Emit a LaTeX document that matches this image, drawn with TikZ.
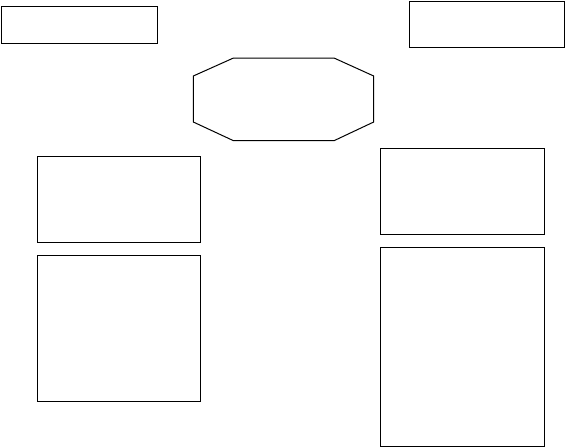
\documentclass[tikz,border=0pt]{standalone}
\usepackage{tikz}
\tikzset{
  panel/.style={draw, line width=1pt, rectangle, inner sep=0pt, outer sep=0pt}
}
\begin{document}
\begin{tikzpicture}[x=1pt, y=-1pt]
    \useasboundingbox (0,0) rectangle (567,447) ;
    \node (titleleft) [panel, minimum width=155.5pt, minimum height=36.7pt] at (79.5,24.7) {} ;
    \node (titleright) [panel, minimum width=155.3pt, minimum height=46.5pt] at (487.3,24.7) {} ;
    \draw[line width=1pt] (193.3,76) -- (233.5,58) -- (334,58) -- (373.7,76)
      -- (373.7,122) -- (334,140.7) -- (233.5,140.7) -- (193.3,122) -- cycle ;
    \node (leftupper) [panel, minimum width=162.6pt, minimum height=85.6pt] at (119,199.5) {} ;
    \node (leftlower) [panel, minimum width=162.6pt, minimum height=145.6pt] at (119,328.5) {} ;
    \node (rightupper) [panel, minimum width=164pt, minimum height=86pt] at (462.3,191.3) {} ;
    \node (rightlower) [panel, minimum width=164pt, minimum height=198.7pt] at (462.3,346.7) {} ;
  \end{tikzpicture}
\end{document}
